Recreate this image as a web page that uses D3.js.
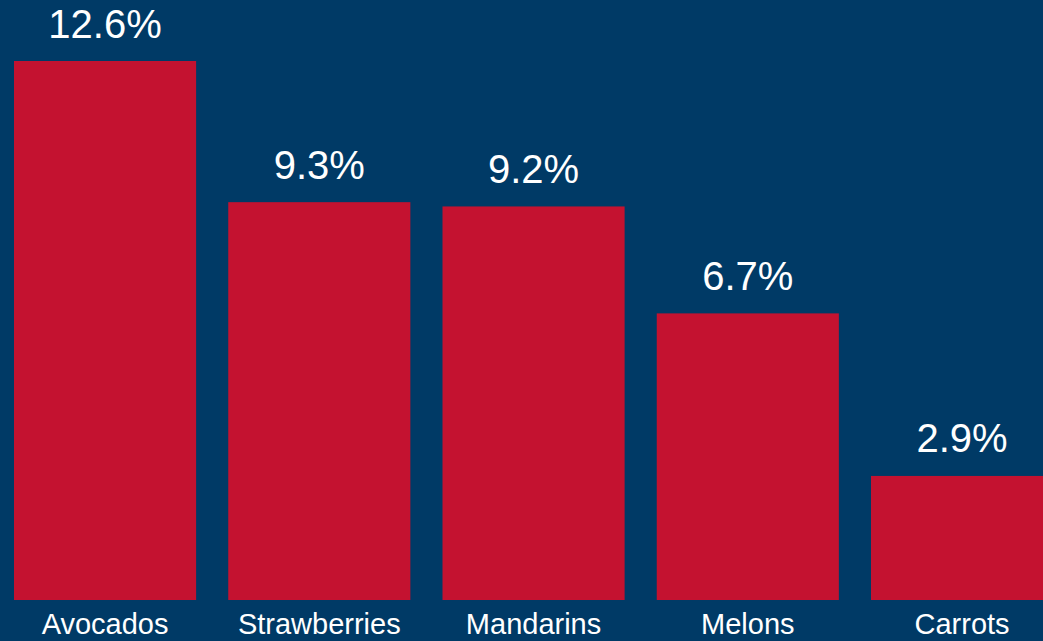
<!DOCTYPE html>
<html>
<head>
<meta charset="utf-8">
<script src="https://cdn.jsdelivr.net/npm/d3@7"></script>
<style>
  html, body { margin: 0; padding: 0; background: #003a66; overflow: hidden; }
  svg { display: block; }
  text { font-family: "Liberation Sans", Arial, Helvetica, sans-serif; fill: #ffffff; }
</style>
</head>
<body>
<svg id="chart"></svg>
<script>
const categories = ['Avocados', 'Strawberries', 'Mandarins', 'Melons', 'Carrots'];
const values = [12.6, 9.3, 9.2, 6.7, 2.9];
const valueLabels = ['12.6%', '9.3%', '9.2%', '6.7%', '2.9%'];

const colors = {
    bg: '#003a66',
    bar: '#c41230'
};

const width = 1043;
const height = 641;
const baseline = 600;
const step = 214.25;

const svg = d3.select('#chart')
    .attr('width', width)
    .attr('height', height);

svg.append('rect')
    .attr('width', width)
    .attr('height', height)
    .attr('fill', colors.bg);

const x = d3.scaleBand()
    .domain(categories)
    .range([14 - 0.075 * step, 14 - 0.075 * step + 5 * step])
    .paddingInner(0.15)
    .paddingOuter(0.075);

const y = d3.scaleLinear()
    .domain([0, 12.6])
    .range([baseline, 61]);

const data = categories.map((c, i) => ({ name: c, value: values[i], label: valueLabels[i] }));

const node = svg.selectAll('g.bar')
    .data(data)
    .enter().append('g')
    .attr('class', 'bar');

node.append('rect')
    .attr('x', d => x(d.name))
    .attr('y', d => y(d.value))
    .attr('width', x.bandwidth())
    .attr('height', d => baseline - y(d.value))
    .attr('fill', colors.bar);

// value above each bar
node.append('text')
    .attr('x', d => x(d.name) + x.bandwidth() / 2)
    .attr('y', d => y(d.value) - 23.5)
    .attr('text-anchor', 'middle')
    .style('font-size', '40px')
    .text(d => d.label);

// category under each bar (kept just inside the bottom edge)
node.append('text')
    .attr('x', d => x(d.name) + x.bandwidth() / 2)
    .attr('y', 634)
    .attr('text-anchor', 'middle')
    .style('font-size', '29px')
    .text(d => d.name);
</script>
</body>
</html>
